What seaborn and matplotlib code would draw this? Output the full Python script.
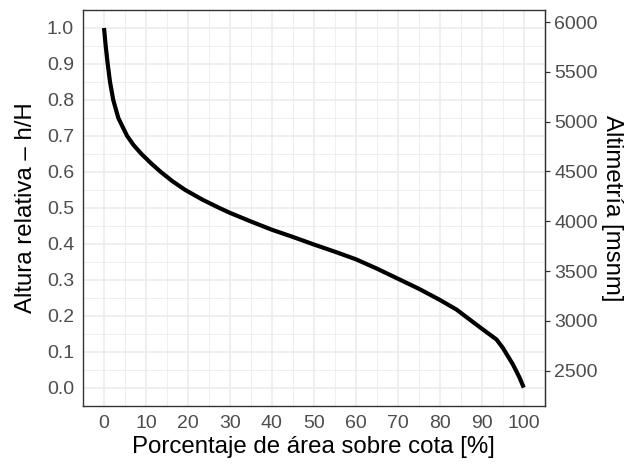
import numpy as np
import pandas as pd
import matplotlib
matplotlib.use("Agg")
import matplotlib.pyplot as plt
import seaborn as sns

# Hypsometric curve: share of basin area above each relative elevation
area_pct = [0, 0.4, 0.88, 1.43, 2.2, 3.4, 4.4, 5.5, 7.0, 8.9, 11.1, 13.5, 16.3,
            19.3, 23.4, 27.4, 30.0, 35.0, 40.0, 45.0, 50.0, 55.0, 60.0, 65.0,
            70.0, 75.0, 80.0, 84.0, 85.0, 90.0, 93.5, 95.0, 97.4, 99.0, 100.0]
rel_height = [1.0, 0.95, 0.90, 0.85, 0.80, 0.75, 0.726, 0.70, 0.675, 0.65, 0.625,
              0.60, 0.574, 0.55, 0.523, 0.50, 0.486, 0.462, 0.439, 0.419, 0.398,
              0.378, 0.357, 0.331, 0.303, 0.275, 0.244, 0.217, 0.208, 0.164,
              0.134, 0.111, 0.065, 0.028, 0.0]

# Basin elevation range [msnm]
elev_min = 2330
elev_max = 5940

x_ticks = list(range(0, 101, 10))
y_ticks = [round(v * 0.1, 1) for v in range(0, 11)]
elev_ticks = [2500, 3000, 3500, 4000, 4500, 5000, 5500, 6000]

df = pd.DataFrame({"area": area_pct, "h": rel_height})

sns.set_style("white")
plt.rcParams["font.family"] = ["Liberation Sans", "DejaVu Sans"]

fig = plt.figure(figsize=(6.29, 4.68), dpi=100)
ax = fig.add_axes([0.132, 0.1333, 0.734, 0.8453])

sns.lineplot(data=df, x="area", y="h", ax=ax, color="black", linewidth=3.0,
             sort=False, estimator=None)
ax.lines[0].set_solid_capstyle("butt")
ax.lines[0].set_solid_joinstyle("round")

ax.set_xlim(-5, 105)
ax.set_ylim(-0.05, 1.05)
ax.set_xticks(x_ticks)
ax.set_yticks(y_ticks)
ax.set_yticklabels([f"{v:.1f}" for v in y_ticks])
ax.set_xticks(np.arange(-5, 106, 5), minor=True)
ax.set_yticks(np.arange(-0.05, 1.06, 0.05), minor=True)

ax.grid(which="major", color="#EBEBEB", linewidth=1.1)
ax.grid(which="minor", color="#EBEBEB", linewidth=0.55)
ax.set_axisbelow(True)

for s in ax.spines.values():
    s.set_color("#333333")
    s.set_linewidth(1.0)

tick_kw = dict(colors="#333333", labelcolor="#4D4D4D", labelsize=14,
               length=3.5, width=0.9, direction="out")
ax.tick_params(axis="both", which="major", **tick_kw)
ax.tick_params(axis="both", which="minor", length=0)
ax.tick_params(axis="x", pad=3)
ax.tick_params(axis="y", pad=3)

ax.set_xlabel("Porcentaje de área sobre cota [%]", fontsize=17.3, color="black", labelpad=3)
ax.set_ylabel("Altura relativa – h/H", fontsize=17.3, color="black", labelpad=7)

span = elev_max - elev_min
sec = ax.secondary_yaxis(
    "right",
    functions=(lambda h: elev_min + h * span, lambda e: (e - elev_min) / span),
)
sec.set_yticks(elev_ticks)
sec.set_yticklabels([str(v) for v in elev_ticks])
sec.tick_params(axis="y", which="major", **tick_kw)
sec.tick_params(axis="y", which="minor", length=0)
sec.spines["right"].set_color("#333333")
sec.set_ylabel("Altimetría [msnm]", fontsize=17.3, color="black",
               rotation=-90, labelpad=18)

fig.savefig("out.png", dpi=100, facecolor="white")
